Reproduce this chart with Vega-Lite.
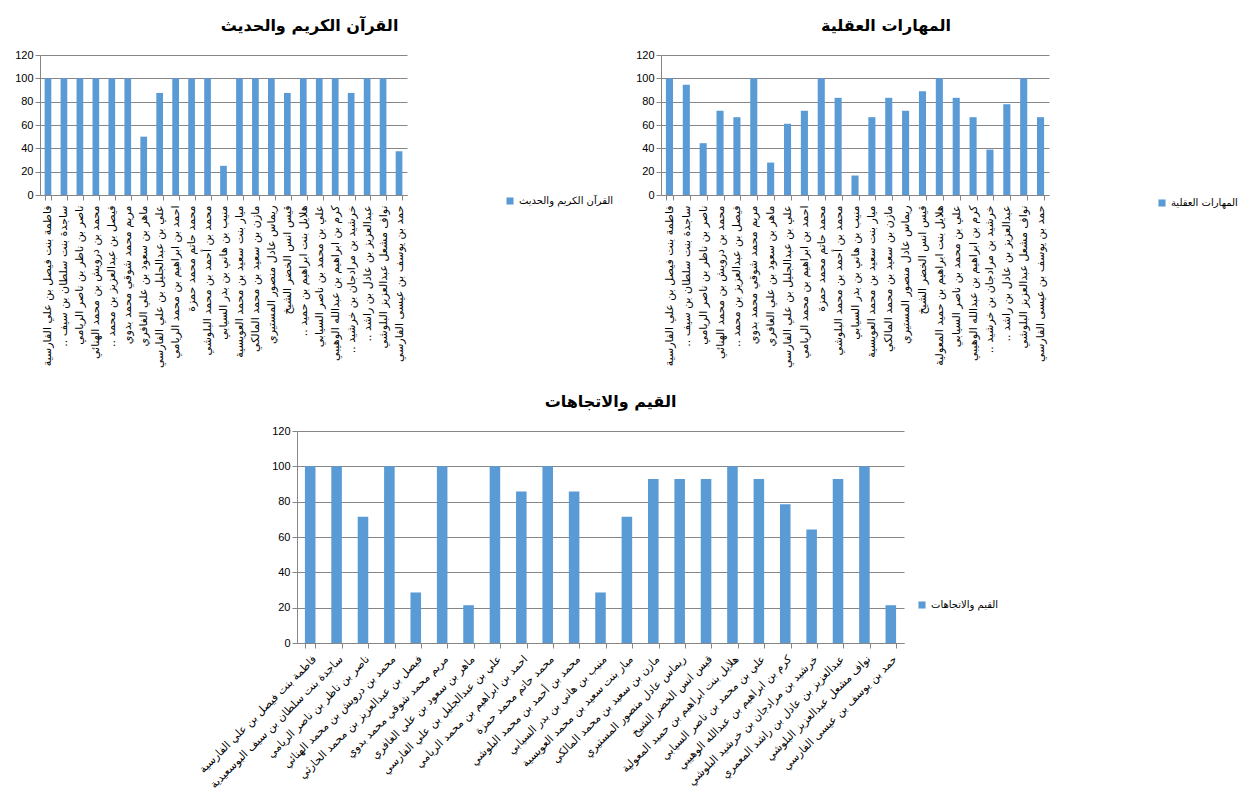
{
  "$schema": "https://vega.github.io/schema/vega-lite/v6.json",
  "background": "white",
  "padding": {"left": 14, "top": 18, "right": 2, "bottom": 2},
  "config": {
    "font": "DejaVu Sans",
    "view": {"stroke": null},
    "axis": {
      "domainColor": "#868686",
      "tickColor": "#868686",
      "gridColor": "#868686",
      "labelColor": "#000000",
      "labelFont": "Liberation Sans",
      "labelFontSize": 11,
      "tickSize": 5
    },
    "title": {"font": "DejaVu Sans", "fontSize": 16, "fontWeight": "bold", "color": "#000000", "offset": 15},
    "legend": {
      "labelFont": "DejaVu Sans",
      "labelFontSize": 10,
      "labelColor": "#000000",
      "symbolType": "square",
      "symbolSize": 50,
      "symbolStrokeWidth": 0,
      "labelOffset": 4
    }
  },
  "data": {
    "values": [
      {"name": "فاطمة بنت فيصل بن علي الفارسية", "quran": 100, "mental": 100, "values": 100},
      {"name": "ساجدة بنت سلطان بن سيف البوسعيدية", "quran": 100, "mental": 94.4, "values": 100},
      {"name": "ناصر بن ناظر بن ناصر الريامي", "quran": 100, "mental": 44.4, "values": 71.4},
      {"name": "محمد بن درويش بن محمد الهنائي", "quran": 100, "mental": 72.2, "values": 100},
      {"name": "فيصل بن عبدالعزيز بن محمد الحارثي", "quran": 100, "mental": 66.7, "values": 28.6},
      {"name": "مريم محمد شوقي محمد بدوي", "quran": 100, "mental": 100, "values": 100},
      {"name": "ماهر بن سعود بن علي الغافري", "quran": 50, "mental": 27.8, "values": 21.4},
      {"name": "علي بن عبدالجليل بن علي الفارسي", "quran": 87.5, "mental": 61.1, "values": 100},
      {"name": "احمد بن ابراهيم بن محمد الريامي", "quran": 100, "mental": 72.2, "values": 85.7},
      {"name": "محمد حاتم محمد حمزة", "quran": 100, "mental": 100, "values": 100},
      {"name": "محمد بن أحمد بن محمد البلوشي", "quran": 100, "mental": 83.3, "values": 85.7},
      {"name": "منيب بن هاني بن بدر السيابي", "quran": 25, "mental": 16.7, "values": 28.6},
      {"name": "ميار بنت سعيد بن محمد العويسية", "quran": 100, "mental": 66.7, "values": 71.4},
      {"name": "مازن بن سعيد بن محمد المالكي", "quran": 100, "mental": 83.3, "values": 92.9},
      {"name": "ريماس عادل منصور المستيري", "quran": 100, "mental": 72.2, "values": 92.9},
      {"name": "قيس انس الخضر الشيخ", "quran": 87.5, "mental": 88.9, "values": 92.9},
      {"name": "هلايل بنت ابراهيم بن حميد المعولية", "quran": 100, "mental": 100, "values": 100},
      {"name": "علي بن محمد بن ناصر السيابي", "quran": 100, "mental": 83.3, "values": 92.9},
      {"name": "كرم بن ابراهيم بن عبدالله الوهيبي", "quran": 100, "mental": 66.7, "values": 78.6},
      {"name": "خرشيد بن مرادجان بن خرشيد البلوشي", "quran": 87.5, "mental": 38.9, "values": 64.3},
      {"name": "عبدالعزيز بن عادل بن راشد المعمري", "quran": 100, "mental": 77.8, "values": 92.9},
      {"name": "نواف مشعل عبدالعزيز البلوشي", "quran": 100, "mental": 100, "values": 100},
      {"name": "حمد بن يوسف بن عيسى الفارسي", "quran": 37.5, "mental": 66.7, "values": 21.4}
    ]
  },
  "center": true,
  "spacing": 26,
  "resolve": {"scale": {"color": "independent", "x": "independent", "y": "independent"}, "legend": {"color": "independent"}},
  "vconcat": [
    {
      "hconcat": [
        {
          "width": 367,
          "height": 140,
          "title": {"text": "القرآن الكريم والحديث", "dx": 86},
          "mark": {"type": "bar"},
          "encoding": {
            "x": {
              "field": "name", "type": "nominal", "sort": null,
              "scale": {"paddingInner": 0.58, "paddingOuter": 0.29},
              "axis": {
                "title": null, "labelAngle": -90, "labelFont": "DejaVu Sans", "labelFontSize": 11,
                "tickBand": "extent", "labelLimit": 0, "labelPadding": 5,
                "labelExpr": "test(/^(ساجدة|فيصل|هلايل|خرشيد|عبدالعزيز)/, datum.label) ? join(slice(split(datum.label, ' '), 0, 5), ' ') + ' ..\u200f' : datum.label"
              }
            },
            "y": {
              "field": "quran", "type": "quantitative",
              "scale": {"domain": [0, 120]},
              "axis": {"title": null, "values": [0, 20, 40, 60, 80, 100, 120], "grid": true}
            },
            "color": {
              "datum": "القرآن الكريم والحديث",
              "scale": {"range": ["#5B9BD5"]},
              "legend": {"title": null, "orient": "none", "legendX": 465, "legendY": 141}
            }
          }
        },
        {
          "width": 388,
          "height": 140,
          "title": {"text": "المهارات العقلية", "dx": 31},
          "mark": {"type": "bar"},
          "encoding": {
            "x": {
              "field": "name", "type": "nominal", "sort": null,
              "scale": {"paddingInner": 0.58, "paddingOuter": 0.29},
              "axis": {
                "title": null, "labelAngle": -90, "labelFont": "DejaVu Sans", "labelFontSize": 11,
                "tickBand": "extent", "labelLimit": 0, "labelPadding": 5,
                "labelExpr": "test(/^(ساجدة|فيصل|خرشيد|عبدالعزيز)/, datum.label) ? join(slice(split(datum.label, ' '), 0, 5), ' ') + ' ..\u200f' : datum.label"
              }
            },
            "y": {
              "field": "mental", "type": "quantitative",
              "scale": {"domain": [0, 120]},
              "axis": {"title": null, "values": [0, 20, 40, 60, 80, 100, 120], "grid": true}
            },
            "color": {
              "datum": "المهارات العقلية",
              "scale": {"range": ["#5B9BD5"]},
              "legend": {"title": null, "orient": "none", "legendX": 478, "legendY": 125, "padding": 18}
            }
          }
        }
      ],
      "spacing": 21,
      "resolve": {"scale": {"color": "independent", "x": "independent", "y": "independent"}, "legend": {"color": "independent"}}
    },
    {
      "width": 607,
      "height": 212,
      "title": {"text": "القيم والاتجاهات", "dx": 10},
      "mark": {"type": "bar"},
      "encoding": {
        "x": {
          "field": "name", "type": "nominal", "sort": null,
          "scale": {"paddingInner": 0.6, "paddingOuter": 0.3},
          "axis": {
            "title": null, "labelAngle": -45, "labelFont": "DejaVu Sans", "labelFontSize": 11,
            "tickBand": "extent", "labelLimit": 0, "labelPadding": 5
          }
        },
        "y": {
          "field": "values", "type": "quantitative",
          "scale": {"domain": [0, 120]},
          "axis": {"title": null, "values": [0, 20, 40, 60, 80, 100, 120], "grid": true}
        },
        "color": {
          "datum": "القيم والاتجاهات",
          "scale": {"range": ["#5B9BD5"]},
          "legend": {"title": null, "orient": "none", "legendX": 620, "legendY": 169}
        }
      }
    }
  ]
}
